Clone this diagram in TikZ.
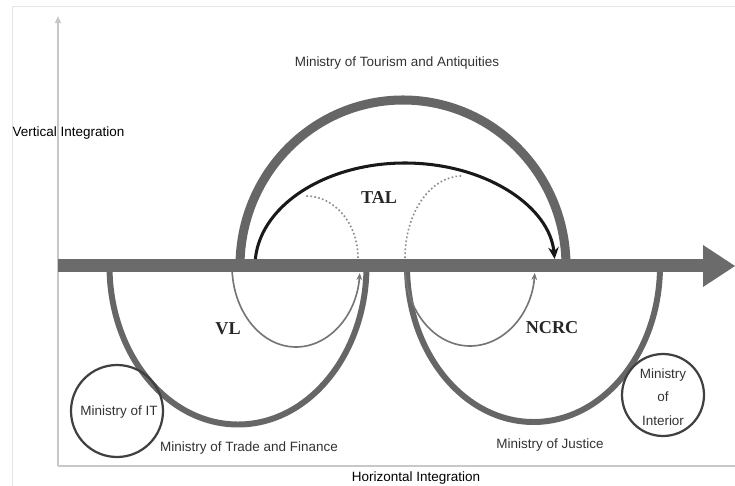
\documentclass[tikz,border=0pt]{standalone}
\usepackage{fontspec}
\setmainfont{Liberation Sans}
\newfontfamily\abbrfont{Liberation Serif}
\usetikzlibrary{arrows.meta}
\definecolor{bargray}{HTML}{6B6B6B}
\definecolor{arcgray}{HTML}{666666}
\definecolor{thingray}{HTML}{757575}
\definecolor{dotgray}{HTML}{8C8C8C}
\definecolor{axisgray}{HTML}{C8C8C8}
\definecolor{textgray}{HTML}{333333}
\definecolor{ringgray}{HTML}{404040}
\tikzset{
  label/.style={font=\fontsize{11.5}{13}\selectfont, text=textgray, inner sep=0pt},
  axislabel/.style={font=\fontsize{11.5}{13}\selectfont, text=black, inner sep=0pt},
  abbr/.style={font=\abbrfont\bfseries\fontsize{15.5}{17}\selectfont, text=black!85, inner sep=0pt},
  ministryring/.style={draw=ringgray, line width=1.9pt},
  bigarc/.style={draw=arcgray, line width=5.1pt},
  looparc/.style={draw=thingray, line width=1.4pt, -{Stealth[length=6pt,width=5pt]}},
  dotarc/.style={draw=dotgray, line width=1.4pt, dotted},
}
\begin{document}
\begin{tikzpicture}[x=0.03cm, y=-0.03cm]
\useasboundingbox (0,0) rectangle (735,486);

% faint outer frame
\draw[black!10, line width=0.6pt] (12,486) -- (12,6) -- (735,6);

% axes
\coordinate (origin) at (58,466);
\coordinate (ytop) at (58,16);
\coordinate (xend) at (735,466);
\draw[axisgray, line width=1.6pt, -{Triangle[length=6pt,width=5pt]}] (origin) -- (ytop);
\draw[axisgray, line width=1.6pt] (origin) -- (xend);

% ministries below the axis
\draw[bigarc] (109.5,266) arc[start angle=180, end angle=0, x radius=128.5, y radius=158.5];
\draw[bigarc] (407,266) arc[start angle=180, end angle=0, x radius=126.5, y radius=156];

% VL and NCRC loops
\draw[looparc] (232,266) arc[start angle=180, end angle=5, x radius=64, y radius=81];
\draw[looparc] (405,266) arc[start angle=180, end angle=5, x radius=65, y radius=80];

% ministry above the axis
\draw[draw=arcgray, line width=7.7pt] (240,266) arc[start angle=180, end angle=360, x radius=163, y radius=166];

% dotted links from the loops up to TAL
\draw[dotarc] (358,258) arc[start angle=0, end angle=-90, x radius=52, y radius=62];
\draw[dotarc] (405,258) arc[start angle=180, end angle=270, x radius=57, y radius=82];

% main horizontal arrow
\fill[bargray] (58,259.5) rectangle (704,272.5);
\fill[bargray] (703,245) -- (735,266) -- (703,287) -- cycle;

% TAL arc
\draw[black!90, line width=2.6pt, -{Stealth[length=10pt,width=9pt]}]
  (255.35,259) arc[start angle=183.9, end angle=356.1, x radius=150, y radius=103];

% ministry rings
\draw[ministryring] (117,411) circle[radius=46];
\draw[ministryring] (663,395) circle[radius=41];

% labels
\node[axislabel] (vlab) at (68.5,133) {Vertical Integration};
\node[axislabel] (hlab) at (416,478) {Horizontal Integration};
\node[label] (tour) at (397,63) {Ministry of Tourism and Antiquities};
\node[label] (trade) at (249,448) {Ministry of Trade and Finance};
\node[label] (just) at (550,445) {Ministry of Justice};
\node[label] (mit) at (119,412) {Ministry of IT};
\node[label, align=center, font=\fontsize{11.5}{20}\selectfont] (mint) at (663,397) {Ministry\\of\\Interior};
\node[abbr] (tal) at (379,198) {TAL};
\node[abbr] (vl) at (228,329) {VL};
\node[abbr] (ncrc) at (552,328) {NCRC};
\end{tikzpicture}
\end{document}
